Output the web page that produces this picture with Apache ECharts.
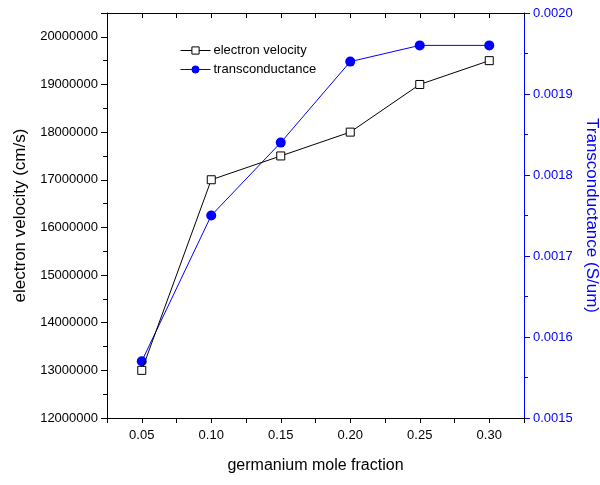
<!DOCTYPE html>
<html><head><meta charset="utf-8">
<script src="https://cdn.jsdelivr.net/npm/echarts@6/dist/echarts.min.js"></script>
<style>html,body{margin:0;padding:0;background:#fff}#c{width:600px;height:485px}</style>
</head><body><div id="c"></div>
<script>
const fractions = [0.05, 0.10, 0.15, 0.20, 0.25, 0.30];
const electronVelocity = [13000000, 17000000, 17500000, 18000000, 19000000, 19500000];
const transconductance = [0.00157, 0.00175, 0.00184, 0.00194, 0.00196, 0.00196];
const xTickLabels = ['0.05','0.10','0.15','0.20','0.25','0.30'];

const FONT = 'Liberation Sans, Arial, sans-serif';
const BLUE = '#0000ff';
const chart = echarts.init(document.getElementById('c'), null, {renderer:'canvas'});
const xLabel = v => {
  const i = fractions.findIndex(f => Math.abs(f - v) < 1e-9);
  return i >= 0 ? xTickLabels[i] : '';
};
chart.setOption({
  animation: false,
  backgroundColor: '#fff',
  grid: {left: 107, right: 76, top: 13, bottom: 67, containLabel: false, outerBoundsMode: 'none'},
  legend: {
    orient: 'vertical', left: 175, top: 39, itemWidth: 30, itemHeight: 9, itemGap: 6,
    lineStyle: {width: 1},
    itemStyle: {borderWidth: 1},
    textStyle: {fontFamily: FONT, fontSize: 13, color: '#000', padding: [0, 0, 0, -2]},
    data: ['electron velocity', 'transconductance']
  },
  xAxis: [{
    type: 'value', min: 0.025, max: 0.325, interval: 0.025,
    name: 'germanium mole fraction', nameLocation: 'middle', nameGap: 40,
    nameTextStyle: {fontFamily: FONT, fontSize: 16, color: '#000'},
    axisLine: {lineStyle: {color: '#000', width: 1}},
    axisTick: {length: 5, lineStyle: {color: '#000'}},
    axisLabel: {formatter: xLabel, fontFamily: FONT, fontSize: 13, color: '#000', margin: 11},
    splitLine: {show: false}
  }, {
    type: 'value', position: 'top', min: 0.025, max: 0.325, interval: 0.025,
    axisLine: {show: true, lineStyle: {color: '#000', width: 1}},
    axisTick: {show: true, inside: true, length: 5, lineStyle: {color: '#000'}},
    axisLabel: {show: false}, splitLine: {show: false}
  }],
  yAxis: [{
    type: 'value', min: 12000000, max: 20500000, interval: 1000000,
    name: 'electron velocity (cm/s)', nameLocation: 'middle', nameGap: 74,
    nameTextStyle: {fontFamily: FONT, fontSize: 17, color: '#000'},
    axisLine: {show: true, lineStyle: {color: '#000', width: 1}},
    axisTick: {show: true, length: 6, lineStyle: {color: '#000'}},
    minorTick: {show: true, splitNumber: 2, length: 4, lineStyle: {color: '#000'}},
    axisLabel: {fontFamily: FONT, fontSize: 13, color: '#000', margin: 9,
      formatter: v => v >= 20500000 ? '' : String(v)},
    splitLine: {show: false}, minorSplitLine: {show: false}
  }, {
    type: 'value', position: 'right', min: 0.0015, max: 0.0020, interval: 0.0001,
    name: 'Transconductance (S/um)', nameLocation: 'middle', nameGap: 55, nameRotate: -90,
    nameTextStyle: {fontFamily: FONT, fontSize: 17, color: BLUE},
    axisLine: {show: true, lineStyle: {color: BLUE, width: 1}},
    axisTick: {show: true, length: 6, lineStyle: {color: BLUE}},
    minorTick: {show: true, splitNumber: 2, length: 4, lineStyle: {color: BLUE}},
    axisLabel: {fontFamily: FONT, fontSize: 13, color: BLUE, margin: 9,
      formatter: v => v.toFixed(4)},
    splitLine: {show: false}, minorSplitLine: {show: false}
  }],
  series: [{
    name: 'electron velocity', type: 'line', xAxisIndex: 0, yAxisIndex: 0,
    data: fractions.map((x, i) => [x, electronVelocity[i]]),
    symbol: 'rect', symbolSize: 8,
    lineStyle: {color: '#000', width: 1},
    itemStyle: {color: '#fff', borderColor: '#000', borderWidth: 1},
    z: 3
  }, {
    name: 'transconductance', type: 'line', xAxisIndex: 0, yAxisIndex: 1,
    data: fractions.map((x, i) => [x, transconductance[i]]),
    symbol: 'circle', symbolSize: 10,
    lineStyle: {color: BLUE, width: 1},
    itemStyle: {color: BLUE, borderColor: BLUE, borderWidth: 0},
    z: 2
  }]
});
</script></body></html>
